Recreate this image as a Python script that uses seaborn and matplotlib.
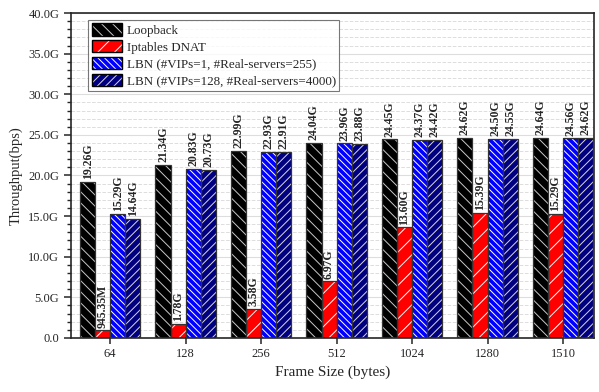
import matplotlib
matplotlib.use("Agg")
import matplotlib.pyplot as plt
import matplotlib.patches as mpatches
from matplotlib.ticker import MultipleLocator, FuncFormatter
import pandas as pd
import seaborn as sns

frame_sizes = ["64", "128", "256", "512", "1024", "1280", "1510"]
loopback = [19.26, 21.34, 22.99, 24.04, 24.45, 24.62, 24.64]
iptables = [0.94535, 1.78, 3.58, 6.97, 13.60, 15.39, 15.29]
lbn_1 = [15.29, 20.83, 22.93, 23.96, 24.37, 24.50, 24.56]
lbn_128 = [14.64, 20.73, 22.91, 23.88, 24.42, 24.55, 24.62]

series = ["Loopback", "Iptables DNAT",
          "LBN (#VIPs=1, #Real-servers=255)",
          "LBN (#VIPs=128, #Real-servers=4000)"]
colors = ["#000000", "#ff0000", "#0000ff", "#000080"]
hatch_cols = ["#c8c8c8", "#ffffff", "#ffffff", "#d8d8d8"]
hatches = ["\\\\\\", "//", "\\\\\\\\\\", "////"]

rows = []
for name, vals in zip(series, [loopback, iptables, lbn_1, lbn_128]):
    for fs, v in zip(frame_sizes, vals):
        rows.append({"size": fs, "series": name, "tp": v})
df = pd.DataFrame(rows)

sns.set_style("ticks")
plt.rcParams["font.family"] = ["Liberation Serif", "DejaVu Serif"]
plt.rcParams["hatch.linewidth"] = 0.7

fig = plt.figure(figsize=(5.99, 3.92), dpi=100)
ax = fig.add_axes([0.1185, 0.1378, 0.873, 0.829])

sns.barplot(data=df, x="size", y="tp", hue="series", order=frame_sizes,
            hue_order=series, palette=colors, width=0.8, saturation=1,
            legend=False, ax=ax)

def fmt_val(v):
    if v < 1:
        return "%.2fM" % (v * 1000)
    return "%.2fG" % v

for cont, h, hc in zip(ax.containers, hatches, hatch_cols):
    for p in cont.patches:
        p.set_hatch(h)
        p.set_edgecolor(hc)
        p.set_linewidth(0)
        ax.add_patch(mpatches.Rectangle(p.get_xy(), p.get_width(), p.get_height(),
                                        fill=False, edgecolor="#333333", lw=0.9, zorder=3))
    labels = [fmt_val(p.get_height()) for p in cont.patches]
    ax.bar_label(cont, labels=labels, rotation=90, padding=2, fontsize=8.5,
                 fontweight="bold", zorder=4)

ax.set_ylim(0, 40)
ax.set_xlim(-0.52, 6.41)
ax.yaxis.set_major_locator(MultipleLocator(5))
ax.yaxis.set_minor_locator(MultipleLocator(1))
ax.yaxis.set_major_formatter(FuncFormatter(lambda v, p: "0.0" if v == 0 else "%.1fG" % v))
ax.grid(axis="y", which="major", color="#dddddd", lw=0.8, zorder=0)
ax.grid(axis="y", which="minor", color="#dddddd", lw=0.7, ls="--", zorder=0)
ax.set_axisbelow(True)
ax.tick_params(axis="y", which="major", length=5, width=1.1, direction="out", labelsize=9)
ax.tick_params(axis="y", which="minor", length=3, width=1.0, direction="out")
ax.tick_params(axis="x", length=4, width=1.1, direction="out", labelsize=9)
for s in ax.spines.values():
    s.set_visible(True)
    s.set_linewidth(1.2)

ax.set_xlabel("Frame Size (bytes)", fontsize=11)
ax.set_ylabel("Throughput(bps)", fontsize=10.5)

handles = [(mpatches.Patch(facecolor=c, hatch=h, edgecolor=hc, lw=0),
            mpatches.Patch(fill=False, edgecolor="black", lw=1.0))
           for c, h, hc in zip(colors, hatches, hatch_cols)]
leg = ax.legend(handles, series, loc="upper left", bbox_to_anchor=(0.033, 0.978),
                fontsize=9.4, frameon=True, fancybox=False, edgecolor="#555555",
                handlelength=2.3, handleheight=1.05, borderpad=0.25, labelspacing=0.25,
                handletextpad=0.4, borderaxespad=0)
leg.get_frame().set_linewidth(0.8)

fig.savefig("out.png", dpi=100)
